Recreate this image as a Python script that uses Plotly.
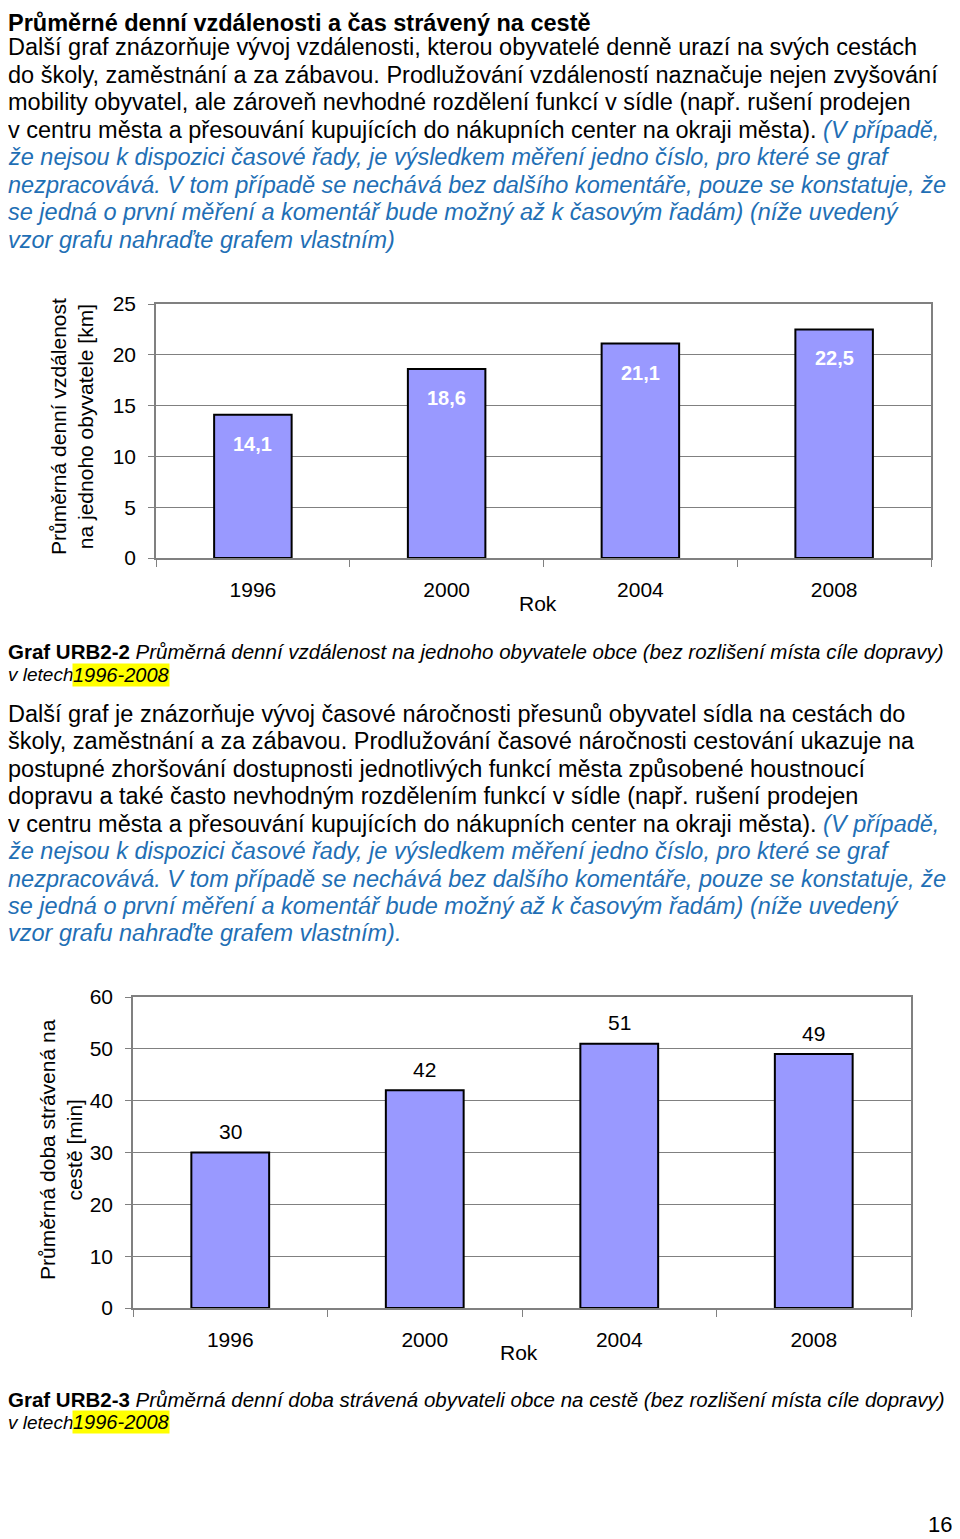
import plotly.graph_objects as go

# ---------------- data ----------------
years = ["1996", "2000", "2004", "2008"]
distance_km = [14.1, 18.6, 21.1, 22.5]
time_min = [30, 42, 51, 49]
dist_ticks = [0, 5, 10, 15, 20, 25]
time_ticks = [0, 10, 20, 30, 40, 50, 60]

title_text = "Průměrné denní vzdálenosti a čas strávený na cestě"

para1_lines = [
    "Další graf znázorňuje vývoj vzdálenosti, kterou obyvatelé denně urazí na svých cestách",
    "do školy, zaměstnání a za zábavou. Prodlužování vzdáleností naznačuje nejen zvyšování",
    "mobility obyvatel, ale zároveň nevhodné rozdělení funkcí v sídle (např. rušení prodejen",
    "v centru města a přesouvání kupujících do nákupních center na okraji města). |(V případě,",
    "|že nejsou k dispozici časové řady, je výsledkem měření jedno číslo, pro které se graf",
    "|nezpracovává. V tom případě se nechává bez dalšího komentáře, pouze se konstatuje, že",
    "|se jedná o první měření a komentář bude možný až k časovým řadám) (níže uvedený",
    "|vzor grafu nahraďte grafem vlastním)",
]
para2_lines = [
    "Další graf je znázorňuje vývoj časové náročnosti přesunů obyvatel sídla na cestách do",
    "školy, zaměstnání a za zábavou. Prodlužování časové náročnosti cestování ukazuje na",
    "postupné zhoršování dostupnosti jednotlivých funkcí města způsobené houstnoucí",
    "dopravu a také často nevhodným rozdělením funkcí v sídle (např. rušení prodejen",
    "v centru města a přesouvání kupujících do nákupních center na okraji města). |(V případě,",
    "|že nejsou k dispozici časové řady, je výsledkem měření jedno číslo, pro které se graf",
    "|nezpracovává. V tom případě se nechává bez dalšího komentáře, pouze se konstatuje, že",
    "|se jedná o první měření a komentář bude možný až k časovým řadám) (níže uvedený",
    "|vzor grafu nahraďte grafem vlastním).",
]
para1_y = [47, 75, 102, 130, 157, 185, 212, 240]
para2_y = [714, 741, 769, 796, 824, 851, 879, 906, 933]

caption1 = ("Graf URB2-2", "Průměrná denní vzdálenost na jednoho obyvatele obce (bez rozlišení místa cíle dopravy)")
caption2 = ("Graf URB2-3", "Průměrná denní doba strávená obyvateli obce na cestě (bez rozlišení místa cíle dopravy)")
caption_years = "1996-2008"

ytitle1 = "Průměrná denní vzdálenost<br>na jednoho obyvatele [km]"
ytitle2 = "Průměrná doba strávená na<br>cestě [min]"
xtitle = "Rok"

# ---------------- layout helpers ----------------
# The page body adds an 8px margin, so the figure is sized to fill the rest of the window
OFF = 8
W, H = 960 - OFF, 1539 - OFF
FONT = "Liberation Sans, Arial, Helvetica, sans-serif"
BLUE = "#1F6FB5"
BAR = "#9999FF"
GRID = "#808080"


def px(x):
    return (x - OFF) / W


def py(y):
    return 1 - (y - OFF) / H


fig = go.Figure()
fig.add_trace(go.Bar(
    x=years, y=distance_km, xaxis="x", yaxis="y", width=0.4,
    marker=dict(color=BAR, line=dict(color="black", width=2)),
    hoverinfo="skip", showlegend=False))
fig.add_trace(go.Bar(
    x=years, y=time_min, xaxis="x2", yaxis="y2", width=0.4,
    marker=dict(color=BAR, line=dict(color="black", width=2)),
    hoverinfo="skip", showlegend=False))

xcommon = dict(type="category", range=[-0.5, len(years) - 0.5], tickson="boundaries",
               ticks="outside", ticklen=7, tickcolor=GRID, tickwidth=1, showline=True,
               linecolor=GRID, linewidth=1.5, mirror=True, showgrid=False, zeroline=False,
               fixedrange=True, automargin=False,
               tickfont=dict(size=21, color="black", family=FONT), ticklabelstandoff=12)
ycommon = dict(ticks="outside", ticklen=6, tickcolor=GRID, tickwidth=1, showline=True,
               linecolor=GRID, linewidth=1.5, mirror=True, showgrid=True, gridcolor=GRID,
               gridwidth=1, zeroline=False, fixedrange=True, automargin=False,
               tickfont=dict(size=21, color="black", family=FONT), ticklabelstandoff=8)

annotations = []


def ann(x, y, text, size, xanchor="left", **kw):
    d = dict(x=px(x), y=py(y), xref="paper", yref="paper", text=text, showarrow=False,
             xanchor=xanchor, yanchor="middle",
             font=dict(size=size, color=kw.pop("color", "black"), family=FONT))
    d.update(kw)
    annotations.append(d)


LEFT = 6

# title (kept just inside the top edge of the figure)
annotations.append(dict(x=px(LEFT), y=1, xref="paper", yref="paper", showarrow=False,
                        xanchor="left", yanchor="top", text="<b>" + title_text + "</b>",
                        font=dict(size=23.5, color="black", family=FONT)))


def styled(line):
    if "|" in line:
        a, b = line.split("|", 1)
        return a + "<span style='color:%s'><i>%s</i></span>" % (BLUE, b)
    return line


for line, y in zip(para1_lines, para1_y):
    ann(LEFT, y, styled(line), 23.5)
for line, y in zip(para2_lines, para2_y):
    ann(LEFT, y, styled(line), 23.5)

# captions
for (lab, txt), y1 in [(caption1, 652), (caption2, 1399)]:
    ann(LEFT, y1, "<b>%s</b> <i>%s</i>" % (lab, txt), 20.5)
    ann(LEFT, y1 + 23, "<i>v letech</i>", 19)
    ann(72, y1 + 23, "<i>%s</i>" % caption_years, 20, bgcolor="#FFFF00", borderpad=0)

# value labels (category axes are addressed by category index)
for i, v in enumerate(distance_km):
    annotations.append(dict(x=i, y=v, xref="x", yref="y", showarrow=False, yshift=-29,
                            text="<b>%s</b>" % ("%.1f" % v).replace(".", ","),
                            font=dict(size=20, color="white", family=FONT)))
for i, v in enumerate(time_min):
    annotations.append(dict(x=i, y=v, xref="x2", yref="y2", showarrow=False, yshift=21,
                            text=str(v), font=dict(size=21, color="black", family=FONT)))

# axis titles
ann(72, 427, ytitle1, 21, xanchor="center", textangle=-90)
ann(61, 1150, ytitle2, 21, xanchor="center", textangle=-90)
ann(538, 603, xtitle, 21, xanchor="center")
ann(519, 1352, xtitle, 21, xanchor="center")

# page number
annotations.append(dict(x=px(954), y=0, xref="paper", yref="paper", showarrow=False,
                        xanchor="right", yanchor="bottom", text="16",
                        font=dict(size=22, color="black", family=FONT)))

fig.update_layout(
    template="none",
    width=W, height=H, margin=dict(l=0, r=0, t=0, b=0, pad=0, autoexpand=False),
    paper_bgcolor="white", plot_bgcolor="white", showlegend=False,
    font=dict(family=FONT, color="black"),
    xaxis=dict(domain=[px(156), px(931)], anchor="y", **xcommon),
    yaxis=dict(domain=[py(558), py(304)], anchor="x", range=[0, 25], tickvals=dist_ticks, **ycommon),
    xaxis2=dict(domain=[px(133), px(911)], anchor="y2", **xcommon),
    yaxis2=dict(domain=[py(1308), py(997)], anchor="x2", range=[0, 60], tickvals=time_ticks, **ycommon),
    annotations=annotations,
    bargap=0.6,
)

fig.write_html("out.html")
